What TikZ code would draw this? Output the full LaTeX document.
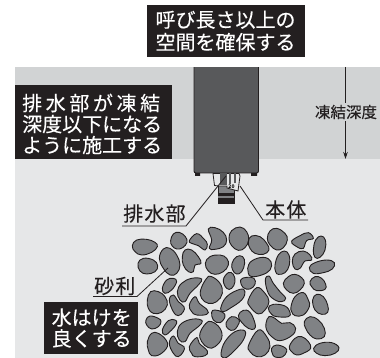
\documentclass[tikz,border=0pt]{standalone}
\usepackage{fontspec}
\setmainfont{Noto Sans CJK JP}
\newfontfamily\jp[FakeBold=0.2]{Noto Sans CJK JP}
\newfontfamily\jpw[LetterSpace=18,FakeBold=0.2]{Noto Sans CJK JP}
\newfontfamily\jpm[LetterSpace=6,FakeBold=0.2]{Noto Sans CJK JP}
\usetikzlibrary{arrows.meta}
\definecolor{upper}{HTML}{D1D3D4}
\definecolor{lower}{HTML}{E6E7E8}
\definecolor{ink}{HTML}{231F20}
\definecolor{bodyc}{HTML}{58595B}
\definecolor{stonec}{HTML}{808285}
\tikzset{
  blackbox/.style={fill=ink,text=white,inner sep=0pt,align=left,anchor=north west,font=\fontsize{20}{22}\jp},
  lab/.style={text=ink,inner sep=0pt,font=\fontsize{20}{22}\jp},
  leader/.style={draw=ink,line width=0.8pt},
  stone/.style={draw=ink,fill=stonec,line width=0.9pt},
}
\newcommand{\stonebean}[1]{\draw[stone] plot[smooth cycle,tension=0.7] coordinates {#1};}
\begin{document}
\begin{tikzpicture}[x=1pt,y=-1pt]
\useasboundingbox (0,0) rectangle (380,358);
\fill[lower] (15,159) rectangle (380,358);
\fill[upper] (15,67) rectangle (380,159);
% box body
\draw[draw=ink,fill=bodyc,line width=0.9pt,rounded corners=2pt] (194,60) -- (194,173) -- (258.5,173) -- (258.5,60) -- cycle;
\fill[white] (180,50) rectangle (270,67);
% drain
\draw[ink,fill=stonec,line width=0.6pt] (218,184) rectangle (234,203);
\fill[ink] (218,193) rectangle (234,203);
\fill[stonec] (218,196) rectangle (234,198);
\draw[ink,fill=lower,line width=0.8pt] (213,173.5) -- (214.5,185.5) -- (219,186) -- (227,186) -- (227,188) -- (238,191) -- (240,176) -- (239,173.5) -- cycle;
\fill[bodyc] (220,173.5) rectangle (227,185);
\fill[bodyc] (229,173.5) rectangle (231,184);
\fill[bodyc] (234,173.5) rectangle (236,183);
\node[inner sep=0pt,font=\fontsize{5}{5}\selectfont\bfseries] (mark) at (231.5,187) {20};
\fill[ink] (195,173) rectangle (200,176) (251,173) rectangle (257,176);
% depth arrow
\coordinate (ds) at (345.5,67);
\coordinate (de) at (345.5,159);
\draw[ink,line width=0.7pt,-{Stealth[length=7pt,width=4.5pt]}] (ds) -- (de);
\node[fill=upper,text=ink,inner xsep=1pt,inner ysep=2pt,font=\fontsize{15.5}{17}\jp] (depth) at (346,112) {凍結深度};
% boxes
\node[blackbox,minimum width=158pt,minimum height=52pt] (top) at (147,5) {};
\node[text=white,inner sep=0pt,align=left,font=\fontsize{20}{22.5}\jp] (toptext) at (225.5,31) {呼び長さ以上の\\空間を確保する};
\node[blackbox,minimum width=157pt,minimum height=74pt] (left) at (15,85) {};
\node[text=white,inner sep=0pt,align=left,anchor=west,font=\fontsize{20}{21}\jp] (lefttext) at (22,124) {{\jpw 排水部が凍結}\\深度以下になる\\ように施工する};
\node[blackbox,minimum width=94pt,minimum height=52pt] (water) at (44,302) {};
\node[text=white,inner sep=0pt,align=left,anchor=west,font=\fontsize{20}{21}\jp] (watertext) at (51.5,328) {水はけを\\良くする};
% labels
\node[lab,anchor=west] (drainlab) at (123,213.5) {\jpm 排水部};
\node[lab,anchor=west] (bodylab) at (265,209.5) {\jpm 本体};
\node[lab,anchor=west] (gravel) at (94,286) {\jpm 砂利};
% stones, left part
\begin{scope}[shift={(130,225)},x=0.3333pt,y=-0.3333pt]
\stonebean{(7,62)(20,45)(50,43)(75,52)(82,65)(65,82)(35,90)(15,80)}
\stonebean{(122,47)(130,27)(148,22)(166,35)(171,52)(158,68)(140,72)(126,62)}
\stonebean{(178,47)(200,26)(222,42)(232,58)(225,75)(205,62)(185,55)}
\stonebean{(235,12)(255,8)(280,22)(290,45)(280,65)(255,73)(238,70)(245,45)}
\stonebean{(297,40)(305,17)(330,6)(350,20)(356,45)(345,68)(325,76)(305,62)}
\stonebean{(24,115)(40,100)(70,105)(83,122)(75,140)(50,147)(30,138)}
\stonebean{(88,100)(100,72)(120,70)(140,90)(150,120)(140,145)(120,150)(100,130)}
\stonebean{(157,95)(165,75)(185,75)(205,95)(213,115)(195,120)(190,140)(175,140)(160,120)}
\stonebean{(226,115)(240,95)(270,90)(290,100)(295,120)(280,140)(255,148)(235,138)}
\stonebean{(306,115)(320,95)(338,95)(344,115)(335,140)(320,147)(308,135)}
\stonebean{(97,190)(110,165)(130,160)(140,170)(125,195)(105,205)}
\stonebean{(142,200)(155,175)(185,160)(215,162)(205,180)(180,205)(165,230)(150,225)}
\stonebean{(212,195)(230,160)(245,155)(270,175)(277,205)(260,230)(235,235)(215,220)}
\stonebean{(280,165)(295,143)(310,148)(315,170)(305,190)(290,190)}
\stonebean{(332,165)(350,157)(372,160)(375,178)(360,192)(340,188)}
\stonebean{(52,225)(62,200)(85,200)(105,215)(112,240)(95,262)(70,265)(55,250)}
\stonebean{(118,225)(130,210)(145,230)(162,245)(160,260)(145,272)(130,260)}
\stonebean{(178,240)(195,215)(208,235)(232,255)(230,268)(200,270)(185,260)}
\stonebean{(272,250)(290,215)(330,193)(345,200)(335,225)(300,250)(280,260)}
\stonebean{(48,285)(60,273)(85,280)(93,290)(85,305)(65,312)(50,300)}
\stonebean{(97,315)(115,287)(135,285)(140,295)(125,315)(105,330)}
\stonebean{(142,320)(155,295)(190,282)(217,288)(205,305)(180,325)(165,350)(148,345)}
\stonebean{(245,262)(255,255)(278,262)(285,275)(270,293)(250,285)}
\stonebean{(288,295)(305,275)(325,282)(327,295)(312,315)(295,312)}
\stonebean{(325,272)(340,256)(360,262)(375,295)(373,312)(355,310)(335,292)}
\stonebean{(210,325)(228,295)(245,290)(270,310)(275,340)(255,365)(235,368)(215,350)}
\stonebean{(52,350)(65,325)(85,325)(108,345)(112,365)(90,388)(65,392)(55,375)}
\stonebean{(118,355)(130,333)(145,355)(162,365)(160,380)(145,395)(130,385)}
\stonebean{(178,365)(200,338)(208,355)(232,378)(225,392)(195,395)(185,385)}
\stonebean{(273,385)(285,350)(315,320)(345,318)(340,345)(315,375)(290,397)(278,397)}
\end{scope}
% stones, right part
\begin{scope}[shift={(245,225)},x=0.3333pt,y=-0.3333pt]
\stonebean{(10,50)(20,33)(45,35)(65,55)(72,75)(55,88)(30,85)(15,70)}
\stonebean{(67,40)(75,18)(95,10)(120,25)(127,45)(115,68)(95,75)(75,60)}
\stonebean{(140,48)(165,32)(190,23)(205,40)(185,47)(175,70)(160,68)(147,60)}
\stonebean{(205,75)(212,45)(228,33)(241,45)(240,75)(225,97)(210,97)}
\stonebean{(8,130)(20,108)(55,97)(78,110)(75,135)(50,150)(20,155)(10,145)}
\stonebean{(90,120)(100,90)(118,78)(132,90)(133,120)(120,143)(100,148)(92,140)}
\stonebean{(142,110)(150,87)(175,78)(195,90)(200,105)(180,108)(165,130)(150,132)}
\stonebean{(193,128)(210,113)(245,105)(268,113)(262,132)(235,143)(205,145)}
\stonebean{(61,165)(72,153)(85,175)(105,200)(122,220)(110,230)(90,225)(70,205)}
\stonebean{(115,175)(130,155)(150,148)(170,158)(178,175)(165,195)(145,205)(125,195)}
\stonebean{(195,170)(210,155)(230,160)(242,178)(240,193)(215,197)(200,185)}
\stonebean{(10,225)(35,188)(60,205)(72,230)(60,255)(40,267)(15,245)}
\stonebean{(70,250)(85,238)(120,243)(135,262)(130,275)(95,275)(80,268)}
\stonebean{(138,245)(150,215)(175,203)(190,225)(193,245)(175,270)(150,272)(140,260)}
\stonebean{(203,225)(215,208)(235,215)(248,240)(248,262)(230,268)(210,255)}
\stonebean{(63,295)(72,275)(90,280)(110,295)(135,293)(152,310)(140,332)(105,347)(80,335)(65,315)}
\stonebean{(178,290)(195,275)(220,285)(238,310)(238,335)(215,342)(195,330)(182,310)}
\stonebean{(11,360)(40,315)(65,335)(75,365)(60,390)(35,395)(15,380)}
\stonebean{(80,370)(95,360)(120,368)(125,380)(112,396)(90,396)(82,385)}
\stonebean{(133,365)(150,340)(170,335)(190,350)(197,370)(175,385)(155,390)(140,380)}
\stonebean{(206,370)(225,355)(260,353)(282,368)(270,385)(240,392)(215,385)}
\end{scope}
% leaders
\coordinate (a1) at (122,226);\coordinate (a2) at (186,226);\coordinate (a3) at (226,176);
\draw[leader] (a1) -- (a2) -- (a3);
\coordinate (b1) at (308,220);\coordinate (b2) at (263,220);\coordinate (b3) at (240,186);
\draw[leader] (b1) -- (b2) -- (b3);
\coordinate (c1) at (93,296.5);\coordinate (c2) at (137,296.5);\coordinate (c3) at (168,268);
\draw[leader] (c1) -- (c2) -- (c3);
\end{tikzpicture}
\end{document}
